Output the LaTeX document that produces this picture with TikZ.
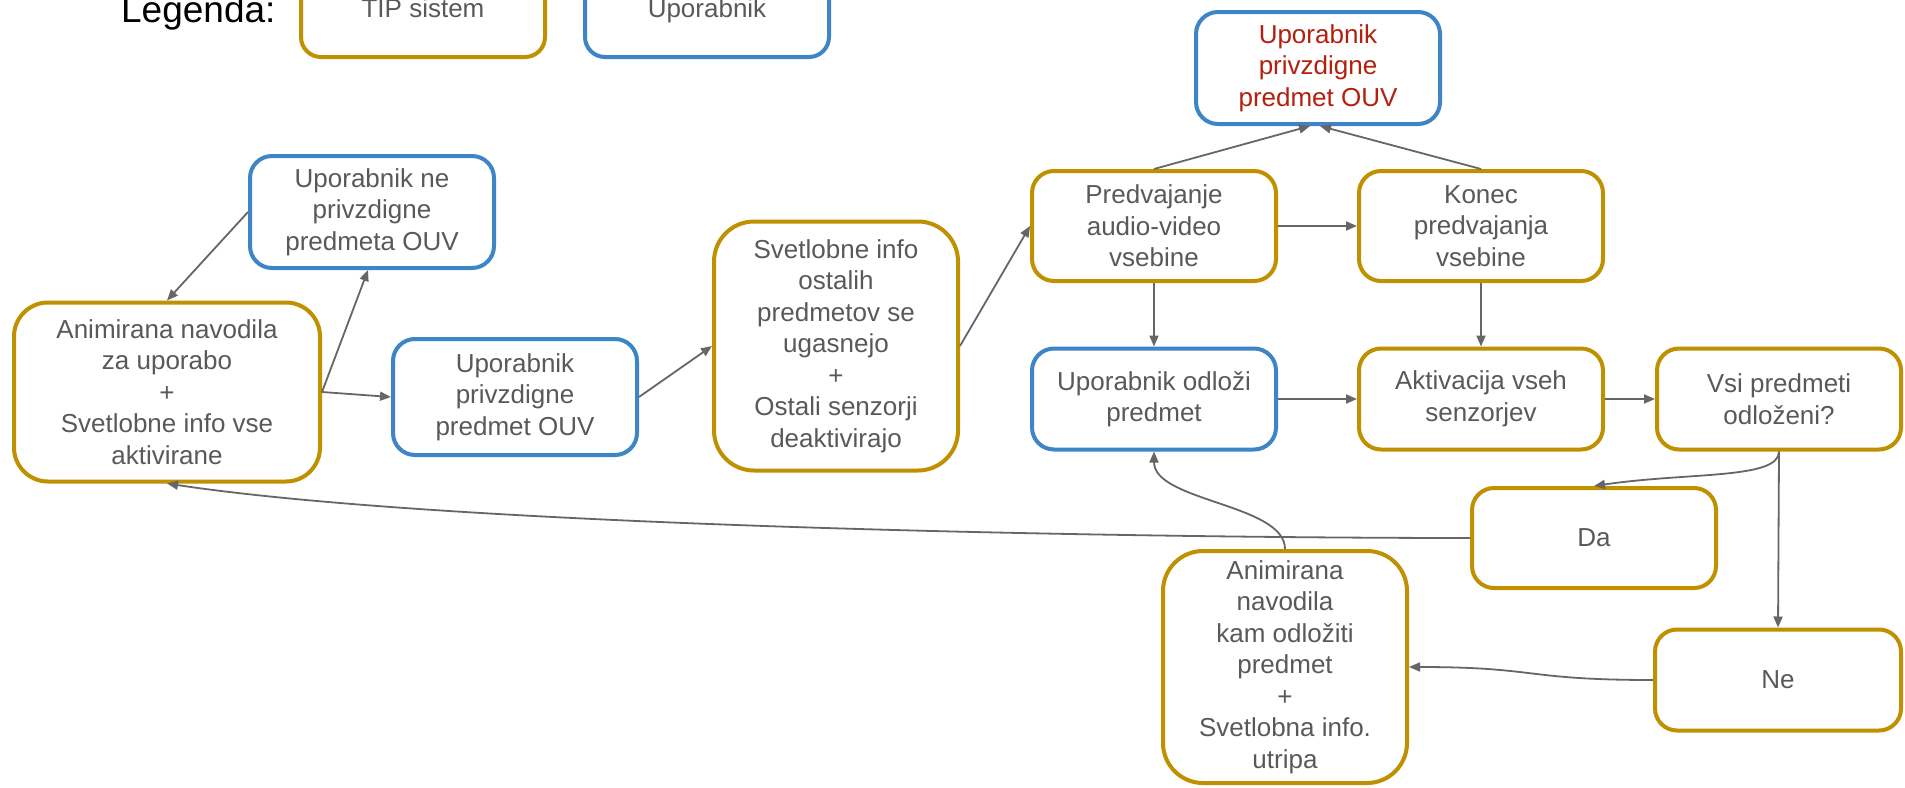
\documentclass[tikz,border=0pt]{standalone}
\usepackage{fontspec}
\setmainfont{Liberation Sans}
\usetikzlibrary{arrows.meta}
\definecolor{gold}{HTML}{BF9000}
\definecolor{blu}{HTML}{3D85C6}
\definecolor{txt}{HTML}{595959}
\definecolor{redt}{HTML}{B3200E}
\definecolor{arr}{HTML}{666666}
\begin{document}
\begin{tikzpicture}[x=1pt,y=-1pt,
  box/.style={draw, line width=4pt, rounded corners=22pt, align=center, text=txt,
    font=\fontsize{26}{31.5}\selectfont, inner sep=0pt, fill=white},
  tipbox/.style={box, draw=gold},
  usrbox/.style={box, draw=blu},
  conn/.style={draw=arr, line width=1.8pt, -{Triangle[length=11pt,width=9pt]}}]
\useasboundingbox (0,0) rectangle (1905,787);
\clip (0,0) rectangle (1905,787);
\fill[white] (0,0) rectangle (1905,787);

% legend
\node[anchor=base east, font=\fontsize{37}{40}\selectfont, text=black] (leg) at (279,22) {Legenda:};
\node[tipbox, rounded corners=20pt, minimum width=244pt, minimum height=100pt] (legtip) at (423,7) {};
\node[usrbox, rounded corners=20pt, minimum width=244pt, minimum height=100pt] (legusr) at (707,7) {};
\node[anchor=base, text=txt, font=\fontsize{26}{31.5}\selectfont] (legtipt) at (423,17) {TIP sistem};
\node[anchor=base, text=txt, font=\fontsize{26}{31.5}\selectfont] (legusrt) at (707,17) {Uporabnik};

% nodes
\node[usrbox, text=redt, minimum width=244pt, minimum height=112pt] (red) at (1318,68) {Uporabnik\\privzdigne\\predmet OUV};
\node[usrbox, minimum width=244pt, minimum height=112pt] (nepriv) at (372,212) {Uporabnik ne\\privzdigne\\predmeta OUV};
\node[tipbox, rounded corners=34pt, minimum width=306pt, minimum height=179pt] (anim1) at (167,392) {Animirana navodila\\za uporabo\\+\\Svetlobne info vse\\aktivirane};
\node[usrbox, minimum width=244pt, minimum height=116pt] (upmid) at (515,397) {Uporabnik\\privzdigne\\predmet OUV};
\node[tipbox, rounded corners=40pt, minimum width=244pt, minimum height=249pt] (svet) at (836,346) {Svetlobne info\\ostalih\\predmetov se\\ugasnejo\\+\\Ostali senzorji\\deaktivirajo};
\node[tipbox, minimum width=244pt, minimum height=110pt] (pred) at (1154,226) {Predvajanje\\audio-video\\vsebine};
\node[tipbox, minimum width=244pt, minimum height=110pt] (konec) at (1481,226) {Konec\\predvajanja\\vsebine};
\node[usrbox, minimum width=244pt, minimum height=101pt] (odl) at (1154,399) {Uporabnik odloži\\predmet};
\node[tipbox, minimum width=244pt, minimum height=101pt] (akt) at (1481,399) {Aktivacija vseh\\senzorjev};
\node[tipbox, minimum width=244pt, minimum height=101pt] (vsi) at (1779,399) {Vsi predmeti\\odloženi?};
\node[tipbox, minimum width=244pt, minimum height=100pt] (da) at (1594,538) {Da};
\node[tipbox, rounded corners=40pt, minimum width=244pt, minimum height=232pt] (anim2) at (1285,667) {Animirana\\navodila\\kam odložiti\\predmet\\+\\Svetlobna info.\\utripa};
\node[tipbox, minimum width=246pt, minimum height=101pt] (ne) at (1778,680) {Ne};

% connectors
\draw[conn] (nepriv.west) -- (anim1.north);
\draw[conn] (anim1.east) -- ([xshift=-4pt]nepriv.south);
\draw[conn] (anim1.east) -- (upmid.west);
\draw[conn] (upmid.east) -- (svet.west);
\draw[conn] (svet.east) -- (pred.west);
\draw[conn] (pred.north) -- ([xshift=-8pt]red.south);
\draw[conn] (konec.north) -- ([xshift=2pt]red.south);
\draw[conn] (pred.east) -- (konec.west);
\draw[conn] (pred.south) -- (odl.north);
\draw[conn] (konec.south) -- (akt.north);
\draw[conn] (odl.east) -- (akt.west);
\draw[conn] (akt.east) -- (vsi.west);
\draw[conn] (vsi.south) .. controls +(0,28) and +(95,-14) .. (da.north);
\draw[conn] (vsi.south) -- (ne.north);
\draw[conn] (da.west) .. controls +(-300,0) and +(300,45) .. (anim1.south);
\draw[conn] (ne.west) .. controls +(-130,0) and +(130,0) .. (anim2.east);
\draw[conn] (anim2.north) .. controls +(0,-45) and +(0,50) .. (odl.south);
\end{tikzpicture}
\end{document}
